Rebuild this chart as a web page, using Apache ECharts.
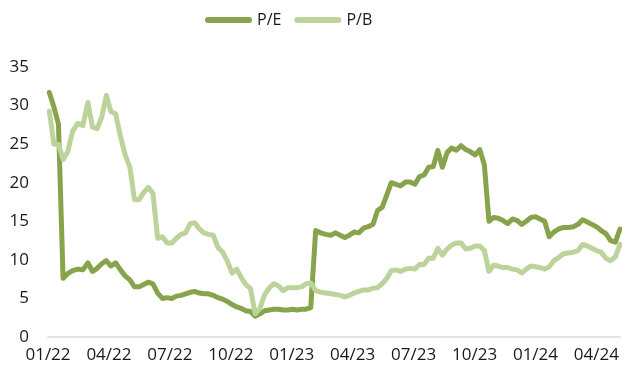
<!DOCTYPE html>
<html>
<head>
<meta charset="utf-8">
<script src="https://cdn.jsdelivr.net/npm/echarts@6/dist/echarts.min.js"></script>
<style>
  html, body { margin: 0; padding: 0; background: #fff; }
  #chart { width: 622px; height: 374px; }
</style>
</head>
<body>
<div id="chart"></div>
<script>
// Weekly valuation multiples, first observation on Monday 3 Jan 2022
const firstWeek = [2022, 0, 3];

const pe = [
  31.7, 29.8, 27.6, 7.6, 8.2, 8.6, 8.8, 8.7, 9.6, 8.5,
  8.9, 9.5, 9.9, 9.2, 9.6, 8.7, 7.9, 7.4, 6.5, 6.5,
  6.8, 7.1, 6.9, 5.7, 5.0, 5.1, 5.0, 5.3, 5.4, 5.6,
  5.8, 5.9, 5.7, 5.6, 5.6, 5.4, 5.1, 4.9, 4.6, 4.2,
  3.9, 3.7, 3.4, 3.3, 2.7, 3.0, 3.4, 3.5, 3.6, 3.6,
  3.5, 3.5, 3.6, 3.5, 3.6, 3.6, 3.8, 13.8, 13.5, 13.3,
  13.2, 13.5, 13.2, 12.9, 13.2, 13.6, 13.5, 14.1, 14.3, 14.6,
  16.4, 16.8, 18.4, 20.0, 19.8, 19.6, 20.1, 20.1, 19.8, 20.8,
  21.0, 22.0, 22.1, 24.2, 22.0, 23.9, 24.5, 24.2, 24.8, 24.3,
  24.0, 23.6, 24.3, 22.3, 15.0, 15.5, 15.4, 15.1, 14.7, 15.3,
  15.1, 14.6, 15.0, 15.5, 15.6, 15.3, 15.0, 13.0, 13.6, 14.0,
  14.2, 14.2, 14.3, 14.6, 15.2, 14.9, 14.6, 14.3, 13.8, 13.4,
  12.5, 12.3, 14.0
];

const pb = [
  29.3, 25.0, 25.0, 23.0, 24.0, 26.7, 27.7, 27.4, 30.4, 27.2,
  27.0, 28.5, 31.3, 29.2, 28.9, 26.0, 23.6, 22.0, 17.8, 17.8,
  18.7, 19.4, 18.6, 12.8, 13.0, 12.2, 12.2, 12.8, 13.3, 13.5,
  14.7, 14.8, 14.0, 13.5, 13.3, 13.2, 11.6, 11.0, 9.8, 8.3,
  8.8, 7.7, 6.8, 6.3, 3.0, 3.7, 5.5, 6.4, 6.9, 6.6,
  6.0, 6.4, 6.4, 6.4, 6.5, 6.9, 7.0, 6.0, 5.8, 5.7,
  5.6, 5.5, 5.4, 5.2, 5.4, 5.7, 5.9, 6.1, 6.1, 6.3,
  6.4, 6.9, 7.6, 8.6, 8.7, 8.5, 8.8, 8.9, 8.8, 9.4,
  9.4, 10.2, 10.2, 11.5, 10.6, 11.4, 11.9, 12.2, 12.2, 11.4,
  11.5, 11.8, 11.8, 11.2, 8.5, 9.3, 9.2, 9.0, 9.0, 8.8,
  8.7, 8.3, 8.8, 9.2, 9.1, 9.0, 8.8, 9.1, 9.9, 10.3,
  10.8, 10.9, 11.0, 11.2, 12.0, 11.8, 11.5, 11.2, 11.0, 10.2,
  9.9, 10.4, 12.0
];

const yTicks = [0, 5, 10, 15, 20, 25, 30, 35];

// Position of a date on the x axis, in months since Jan 2022
function monthPos(dt) {
  const y = dt.getUTCFullYear(), m = dt.getUTCMonth(), d = dt.getUTCDate();
  const dim = new Date(Date.UTC(y, m + 1, 0)).getUTCDate();
  return (y - 2022) * 12 + m + (d - 1) / dim;
}

const weekPos = pe.map((_, i) =>
  monthPos(new Date(Date.UTC(firstWeek[0], firstWeek[1], firstWeek[2] + 7 * i))));

const peData = pe.map((v, i) => [weekPos[i], v]);
const pbData = pb.map((v, i) => [weekPos[i], v]);

function quarterLabel(v) {
  const r = Math.round(v);
  if (Math.abs(v - r) > 1e-6 || r % 3 !== 0) return '';
  const mm = String((r % 12) + 1).padStart(2, '0');
  const yy = String(22 + Math.floor(r / 12));
  return mm + '/' + yy;
}

const DARK = '#87a34b';
const LIGHT = '#bcd39b';
const FONT = '"Open Sans", "Noto Sans", sans-serif';
const pill = 'path://M3,0 L44,0 A3,3 0 0 1 44,6 L3,6 A3,3 0 0 1 3,0 Z';

const chart = echarts.init(document.getElementById('chart'), null, { renderer: 'canvas' });
chart.setOption({
  animation: false,
  backgroundColor: '#ffffff',
  textStyle: { fontFamily: FONT },
  legend: {
    left: 205,
    top: 10,
    padding: 0,
    itemWidth: 47,
    itemHeight: 6,
    itemGap: 13,
    textStyle: { fontFamily: FONT, fontSize: 16, color: '#1a1a1a', lineHeight: 20 },
    data: [
      { name: 'P/E', icon: pill, itemStyle: { color: DARK } },
      { name: 'P/B', icon: pill, itemStyle: { color: LIGHT } }
    ]
  },
  grid: { left: 48, right: 2, top: 67, bottom: 37, containLabel: false },
  xAxis: {
    type: 'value',
    min: 0,
    max: weekPos[weekPos.length - 1],
    interval: 3,
    splitLine: { show: false },
    axisTick: { show: false },
    axisLine: { show: true, lineStyle: { color: '#d9d9d9', width: 1.5 } },
    axisLabel: {
      formatter: quarterLabel,
      showMaxLabel: false,
      margin: 10,
      fontFamily: FONT,
      fontSize: 17,
      color: '#1a1a1a'
    }
  },
  yAxis: {
    type: 'value',
    min: yTicks[0],
    max: yTicks[yTicks.length - 1],
    interval: 5,
    splitLine: { show: false },
    axisTick: { show: false },
    axisLine: { show: false },
    axisLabel: {
      margin: 19,
      fontFamily: FONT,
      fontSize: 17,
      color: '#1a1a1a'
    }
  },
  series: [
    {
      name: 'P/E',
      type: 'line',
      data: peData,
      showSymbol: false,
      symbol: 'none',
      lineStyle: { color: DARK, width: 5, join: 'round', cap: 'round' },
      itemStyle: { color: DARK }
    },
    {
      name: 'P/B',
      type: 'line',
      data: pbData,
      showSymbol: false,
      symbol: 'none',
      lineStyle: { color: LIGHT, width: 5, join: 'round', cap: 'round' },
      itemStyle: { color: LIGHT }
    }
  ]
});
</script>
</body>
</html>
